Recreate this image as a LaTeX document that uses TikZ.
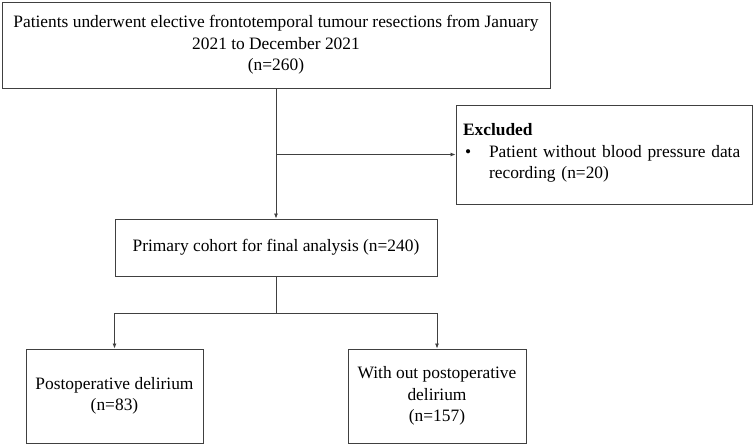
\documentclass[tikz,border=0pt]{standalone}
\usepackage{fontspec}
\setmainfont{Liberation Serif}
\usetikzlibrary{arrows.meta,positioning}
\definecolor{BoxGray}{HTML}{404040}
\tikzset{
  flownode/.style={
    draw=BoxGray,line width=0.9pt,fill=white,
    align=center,inner sep=2pt,
    font=\fontsize{17.4}{21.5}\selectfont
  },
  exnode/.style={
    draw=BoxGray,line width=0.9pt,fill=white,
    text width=282pt,align=left,inner xsep=7pt,
    minimum height=99pt,
    font=\fontsize{17.4}{21.5}\selectfont
  },
  flowline/.style={draw=BoxGray,line width=0.8pt},
  flowarrow/.style={flowline,-{Latex[length=5pt,width=4pt]}},
}

\begin{document}
\begin{tikzpicture}[x=1pt,y=-1pt]
  \useasboundingbox (0,0) rectangle (755,446);
  \node[flownode,minimum width=548pt,minimum height=86pt] (allpts) at (276,45) {Patients underwent elective frontotemporal tumour resections from January\\2021 to December 2021\\(n=260)};
  \node[exnode] (excl) at (604,154.5) {\textbf{Excluded}\\
    \begin{tabular}[t]{@{\hspace{2pt}}p{24pt}@{}l@{}}
      \textbullet & Patient without blood pressure data\\
                  & recording (n=20)
    \end{tabular}};
  \node[flownode,minimum width=322pt,minimum height=57pt] (primary) at (276,247.5) {Primary cohort for final analysis (n=240)};
  \node[flownode,minimum width=177pt,minimum height=94pt] (pod) at (114.5,396) {Postoperative delirium\\(n=83)};
  \node[flownode,minimum width=178pt,minimum height=94pt] (nopod) at (437,396) {With out postoperative\\delirium\\(n=157)};
  \coordinate (exsplit) at (allpts.south |- excl.west);
  \draw[flowarrow] (allpts.south) -- (primary.north);
  \draw[flowarrow] (exsplit) -- (excl.west);
  \draw[flowline] (primary.south) -- ++(0,37) coordinate (fork);
  \draw[flowarrow] (fork) -| (pod.north);
  \draw[flowarrow] (fork) -| (nopod.north);
\end{tikzpicture}
\end{document}
